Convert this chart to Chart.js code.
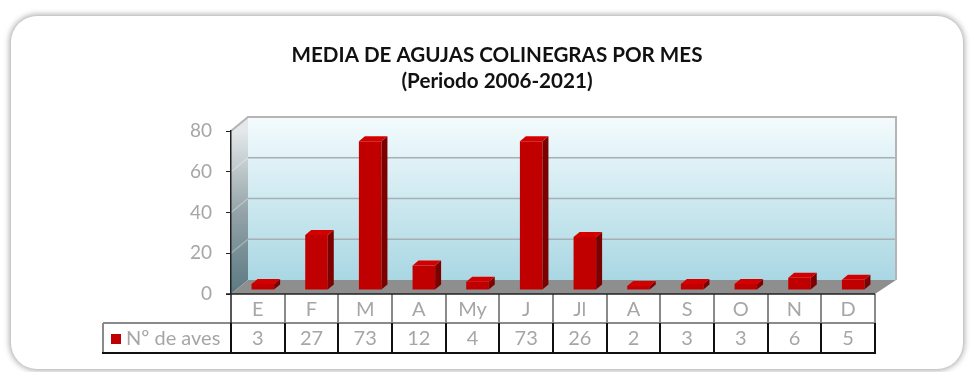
<!DOCTYPE html>
<html>
<head>
<meta charset="utf-8">
<script src="https://cdn.jsdelivr.net/npm/chart.js@4"></script>
<style>
html, body { margin: 0; padding: 0; background: #fff; }
#frame {
    position: absolute; left: 11px; top: 16px; width: 952px; height: 353px;
    border-radius: 26px; background: #fff;
    box-shadow: 0 0 6px 1px rgba(0, 0, 0, 0.38);
}
#wrap { position: absolute; left: 0; top: 0; width: 970px; height: 372px; }
</style>
</head>
<body>
<div id="frame"></div>
<div id="wrap"><canvas id="chart" width="970" height="372"></canvas></div>
<script>
var months = ['E', 'F', 'M', 'A', 'My', 'J', 'Jl', 'A', 'S', 'O', 'N', 'D'];
var aves = [3, 27, 73, 12, 4, 73, 26, 2, 3, 3, 6, 5];
var seriesName = 'Nº de aves';
var titleLines = ['MEDIA DE AGUJAS COLINEGRAS POR MES', '(Periodo 2006-2021)'];
var yTicks = [0, 20, 40, 60, 80];

var FONT = 'Lato, "Open Sans", sans-serif';
var GREY_TEXT = '#a6a6a6';

// depth of the back wall and of the bars, in pixels
var WALL_DX = 17, WALL_DX_RIGHT = 21, WALL_DY = -14;
var BAR_SHIFT_X = 5, BAR_SHIFT_Y = -4;
var BAR_DX = 6, BAR_DY = -5;

function backX(a, px) {
    return px + WALL_DX + (px - a.left) / (a.right - a.left) * (WALL_DX_RIGHT - WALL_DX);
}

var walls = {
    id: 'walls',
    beforeDraw: function(chart) {
        var ctx = chart.ctx, a = chart.chartArea, y = chart.scales.y;
        var bl = backX(a, a.left), br = backX(a, a.right);
        var bt = a.top + WALL_DY, bb = a.bottom + WALL_DY;
        ctx.save();

        // back wall
        var g = ctx.createLinearGradient(0, bt, 0, bb);
        g.addColorStop(0, '#f4fbfd');
        g.addColorStop(1, '#a9d7e3');
        ctx.fillStyle = g;
        ctx.fillRect(bl, bt, br - bl, bb - bt);

        // left side wall
        var s = ctx.createLinearGradient(0, a.top, 0, a.bottom);
        s.addColorStop(0, '#e4e8ea');
        s.addColorStop(0.5, '#93a3a8');
        s.addColorStop(1, '#5b7982');
        ctx.fillStyle = s;
        ctx.beginPath();
        ctx.moveTo(a.left, a.top);
        ctx.lineTo(bl, bt);
        ctx.lineTo(bl, bb);
        ctx.lineTo(a.left, a.bottom);
        ctx.closePath();
        ctx.fill();

        // grid lines on the walls
        yTicks.forEach(function(v) {
            if (v === 0 || v === yTicks[yTicks.length - 1]) return;
            var py = y.getPixelForValue(v);
            ctx.strokeStyle = '#a4b0b4';
            ctx.lineWidth = 1.5;
            ctx.beginPath();
            ctx.moveTo(bl, py + WALL_DY);
            ctx.lineTo(br, py + WALL_DY);
            ctx.stroke();
            ctx.strokeStyle = 'rgba(255,255,255,0.3)';
            ctx.beginPath();
            ctx.moveTo(a.left, py);
            ctx.lineTo(bl, py + WALL_DY);
            ctx.stroke();
        });

        // wall border
        ctx.strokeStyle = '#b4b4b4';
        ctx.lineWidth = 2;
        ctx.beginPath();
        ctx.moveTo(a.left, a.top);
        ctx.lineTo(bl, bt);
        ctx.lineTo(br, bt);
        ctx.lineTo(br, bb);
        ctx.stroke();

        // floor
        ctx.fillStyle = '#8e8e8e';
        ctx.beginPath();
        ctx.moveTo(a.left, a.bottom);
        ctx.lineTo(a.right, a.bottom);
        ctx.lineTo(br, bb);
        ctx.lineTo(bl, bb);
        ctx.closePath();
        ctx.fill();
        ctx.restore();
    },
    beforeDatasetsDraw: function(chart) {
        chart.ctx.save();
        chart.ctx.translate(BAR_SHIFT_X, BAR_SHIFT_Y);
    },
    afterDatasetsDraw: function(chart) {
        var ctx = chart.ctx;
        chart.getDatasetMeta(0).data.forEach(function(el) {
            var l = el.x - el.width / 2, r = el.x + el.width / 2;
            // side
            ctx.fillStyle = '#7c0000';
            ctx.beginPath();
            ctx.moveTo(r, el.y);
            ctx.lineTo(r + BAR_DX, el.y + BAR_DY);
            ctx.lineTo(r + BAR_DX, el.base + BAR_DY);
            ctx.lineTo(r, el.base);
            ctx.closePath();
            ctx.fill();
            // top
            ctx.fillStyle = '#d40000';
            ctx.beginPath();
            ctx.moveTo(l, el.y);
            ctx.lineTo(r, el.y);
            ctx.lineTo(r + BAR_DX, el.y + BAR_DY);
            ctx.lineTo(l + BAR_DX, el.y + BAR_DY);
            ctx.closePath();
            ctx.fill();
        });
        ctx.restore();
    },
    afterDraw: function(chart) {
        var ctx = chart.ctx, a = chart.chartArea, x = chart.scales.x;
        var colW = (a.right - a.left) / months.length;
        var r1 = a.bottom, r2 = a.bottom + 29, r3 = a.bottom + 59;
        var legendLeft = 103;
        ctx.save();

        // title
        ctx.fillStyle = '#111';
        ctx.textAlign = 'center';
        ctx.textBaseline = 'middle';
        ctx.font = 'bold 20.6px ' + FONT;
        ctx.fillText(titleLines[0], 497, 55);
        ctx.fillText(titleLines[1], 497, 81);

        // data table
        ctx.fillStyle = GREY_TEXT;
        ctx.font = '20px ' + FONT;
        months.forEach(function(m, i) {
            var cx = x.getPixelForValue(i);
            ctx.fillText(m, cx, (r1 + r2) / 2 + 1);
            ctx.fillText(String(aves[i]), cx, (r2 + r3) / 2 + 1);
        });
        ctx.textAlign = 'left';
        ctx.fillText(seriesName, 126, (r2 + r3) / 2 + 1);
        ctx.fillStyle = '#c00000';
        ctx.fillRect(111, 334, 10, 10);

        // category row dividers
        ctx.strokeStyle = '#8a8a8a';
        ctx.lineWidth = 2;
        for (var k = 1; k < months.length; k++) {
            var px = Math.round(a.left + k * colW);
            ctx.beginPath();
            ctx.moveTo(px, r1);
            ctx.lineTo(px, r2);
            ctx.stroke();
        }
        ctx.beginPath();
        ctx.moveTo(a.right, r1);
        ctx.lineTo(a.right, r2);
        ctx.moveTo(legendLeft, r2);
        ctx.lineTo(a.right, r2);
        ctx.moveTo(legendLeft, r2);
        ctx.lineTo(legendLeft, r3);
        ctx.stroke();

        // value row dividers
        ctx.strokeStyle = '#111';
        for (k = 0; k <= months.length; k++) {
            px = Math.round(a.left + k * colW);
            ctx.beginPath();
            ctx.moveTo(px, r2);
            ctx.lineTo(px, r3);
            ctx.stroke();
        }
        ctx.beginPath();
        ctx.moveTo(legendLeft - 1, r3);
        ctx.lineTo(a.right + 1, r3);
        ctx.stroke();

        // category axis line
        ctx.strokeStyle = '#222';
        ctx.lineWidth = 1.5;
        ctx.beginPath();
        ctx.moveTo(a.left - 5, r1);
        ctx.lineTo(a.right, r1);
        ctx.moveTo(a.left, r1);
        ctx.lineTo(a.left, r2);
        ctx.stroke();
        ctx.restore();
    }
};

new Chart(document.getElementById('chart'), {
    type: 'bar',
    data: {
        labels: months,
        datasets: [{
            label: seriesName,
            data: aves,
            backgroundColor: '#c00000',
            borderWidth: 0,
            barPercentage: 0.42,
            categoryPercentage: 1,
            clip: false
        }]
    },
    options: {
        responsive: false,
        animation: false,
        layout: { padding: { left: 0, top: 131, right: 95, bottom: 78 } },
        plugins: {
            legend: { display: false },
            title: { display: false },
            tooltip: { enabled: false }
        },
        scales: {
            x: { display: false },
            y: {
                min: 0,
                max: 80,
                afterFit: function(scale) { scale.width = 231; },
                afterBuildTicks: function(scale) {
                    scale.ticks = yTicks.map(function(v) { return { value: v }; });
                },
                ticks: {
                    color: GREY_TEXT,
                    padding: 14,
                    font: { family: FONT, size: 19 }
                },
                grid: {
                    drawOnChartArea: false,
                    tickLength: 5,
                    tickColor: '#222'
                },
                border: { color: '#222', width: 1.5 }
            }
        }
    },
    plugins: [walls]
});
</script>
</body>
</html>
